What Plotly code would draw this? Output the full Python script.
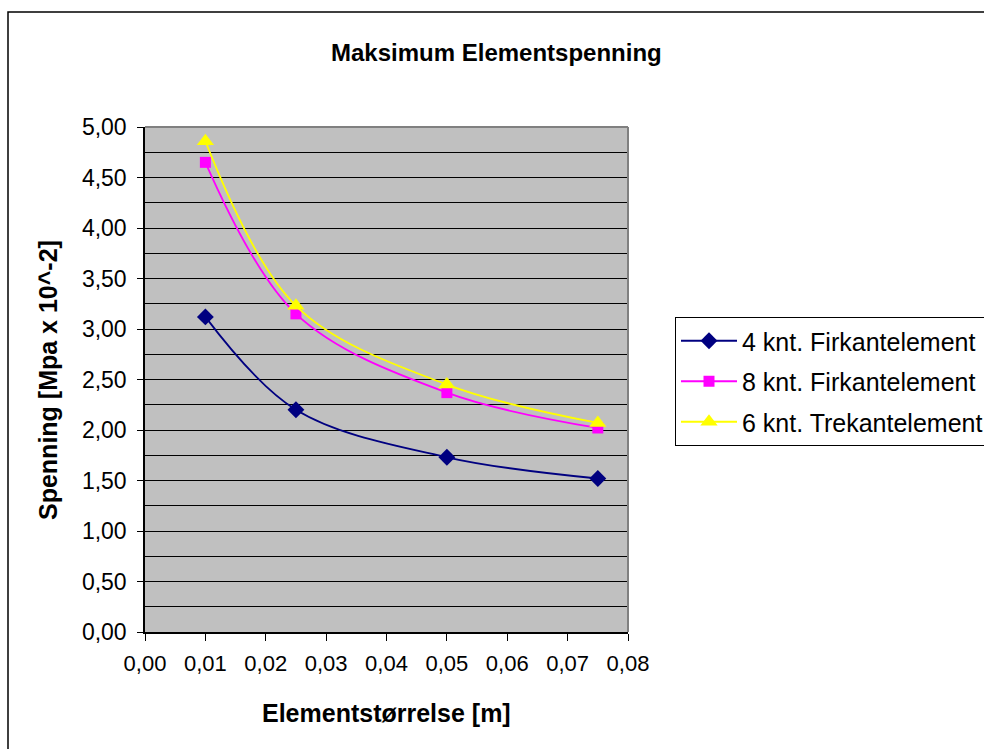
import plotly.graph_objects as go

x_vals = [0.01, 0.025, 0.05, 0.075]
series_names = ["4 knt. Firkantelement", "8 knt. Firkantelement", "6 knt. Trekantelement"]
s4_firkant = [3.12, 2.20, 1.73, 1.52]
s8_firkant = [4.65, 3.15, 2.37, 2.02]
s6_trekant = [4.86, 3.23, 2.45, 2.07]

colors = ["#000080", "#FF00FF", "#FFFF00"]
symbols = ["diamond", "square", "triangle-up"]
sizes = [13, 11, 15]

W, H = 984, 749
L, R, T, B = 145, 628, 127, 632
pw, ph = R - L, B - T

def px(xp):
    return (xp - L) / pw

def py(yp):
    return (B - yp) / ph

FONT = "Liberation Sans, Arial, sans-serif"

fig = go.Figure()
for name, vals, c, s, sz, g in zip(series_names, [s4_firkant, s8_firkant, s6_trekant], colors, symbols, sizes, ["a", "b", "c"]):
    fig.add_trace(go.Scatter(
        x=x_vals, y=vals, name=name, mode="lines+markers",
        line=dict(color=c, width=1.8, shape="spline", smoothing=1),
        marker=dict(color=c, symbol=s, size=sz),
        legendgroup=g,
    ))

fig.update_layout(
    width=W, height=H,
    margin=dict(l=L, r=W - R, t=T, b=H - B, pad=0, autoexpand=False),
    paper_bgcolor="white",
    plot_bgcolor="#C0C0C0",
    separators=", ",
    font=dict(family=FONT, color="black", size=22),
    showlegend=True,
    legend=dict(
        x=px(675), y=py(317), xanchor="left", yanchor="top",
        bgcolor="white", bordercolor="black", borderwidth=1,
        font=dict(family=FONT, size=25, color="black"),
        traceorder="grouped", tracegroupgap=5,
        itemwidth=56,
    ),
    xaxis=dict(
        range=[0, 0.08], dtick=0.01, tick0=0, tickformat=".2f",
        showgrid=False, zeroline=False,
        showline=True, linecolor="black", linewidth=1.5,
        ticks="outside", ticklen=7, tickcolor="black", tickwidth=1,
        tickfont=dict(size=22), ticklabelstandoff=4,
    ),
    yaxis=dict(
        range=[0, 5], dtick=0.5, tick0=0, tickformat=".2f",
        showgrid=True, gridcolor="black", gridwidth=1,
        minor=dict(dtick=0.25, showgrid=True, gridcolor="black", gridwidth=1, ticks=""),
        zeroline=False,
        showline=True, linecolor="black", linewidth=1.5,
        ticks="outside", ticklen=6, tickcolor="black", tickwidth=1,
        tickfont=dict(size=23), ticklabelstandoff=6,
    ),
    shapes=[
        dict(type="line", xref="paper", yref="paper", x0=0, x1=1, y0=1, y1=1,
             line=dict(color="#808080", width=2)),
        dict(type="line", xref="paper", yref="paper", x0=1, x1=1, y0=0, y1=1,
             line=dict(color="#808080", width=2)),
        dict(type="rect", xref="paper", yref="paper",
             x0=px(8), x1=px(992), y0=py(760), y1=py(12),
             line=dict(color="black", width=1.5), fillcolor="rgba(0,0,0,0)", layer="below"),
    ],
    annotations=[
        dict(text="<b>Maksimum Elementspenning</b>", xref="paper", yref="paper",
             x=px(496), y=py(52), xanchor="center", yanchor="middle", showarrow=False,
             font=dict(family=FONT, size=24, color="black")),
        dict(text="<b>Elementstørrelse [m]</b>", xref="paper", yref="paper",
             x=px(386), y=py(713), xanchor="center", yanchor="middle", showarrow=False,
             font=dict(family=FONT, size=25, color="black")),
        dict(text="<b>Spenning [Mpa x 10^-2]</b>", xref="paper", yref="paper",
             x=px(48), y=py(380), xanchor="center", yanchor="middle", showarrow=False,
             textangle=-90, font=dict(family=FONT, size=25, color="black")),
    ],
)

fig.write_html("out.html")
